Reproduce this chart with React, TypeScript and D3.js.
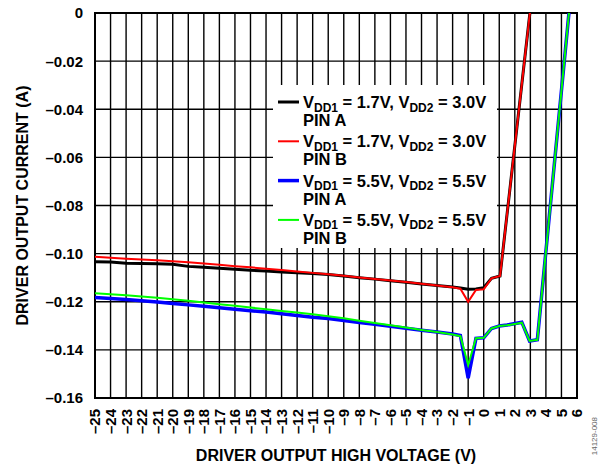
import React, { useEffect, useRef } from "react";
import * as d3 from "d3";

// tick values
const xTickValues = [-25, -24, -23, -22, -21, -20, -19, -18, -17, -16, -15, -14, -13, -12, -11, -10, -9, -8, -7, -6, -5, -4, -3, -2, -1, 0, 1, 2, 3, 4, 5, 6];
const yTickValues = [0, -0.02, -0.04, -0.06, -0.08, -0.1, -0.12, -0.14, -0.16];

// x samples (V)
const lowSupplyX = [-25, -24, -23, -22, -21, -20, -19, -18, -17, -16, -15, -14, -13, -12, -11, -10, -9, -8, -7, -6, -5, -4, -3, -2, -1.5, -1, -0.5, 0, 0.5, 1.05, 3.0];
const highSupplyX = [-25, -24, -23, -22, -21, -20, -19, -18, -17, -16, -15, -14, -13, -12, -11, -10, -9, -8, -7, -6, -5, -4, -3, -2, -1.5, -1, -0.5, 0, 0.5, 1.0, 1.5, 2.45, 2.95, 3.45, 5.5];

// currents (A)
const lowPinA = [-0.1034, -0.1035, -0.104, -0.1041, -0.1042, -0.1044, -0.1053, -0.1057, -0.1061, -0.1065, -0.1069, -0.1072, -0.1076, -0.1079, -0.1083, -0.1087, -0.1093, -0.11, -0.1106, -0.1113, -0.1119, -0.1126, -0.1132, -0.1139, -0.1143, -0.1148, -0.1147, -0.1142, -0.1103, -0.1093, 0.0017];
const lowPinB = [-0.1013, -0.1017, -0.1021, -0.1024, -0.1028, -0.1032, -0.1036, -0.1041, -0.1046, -0.1052, -0.1057, -0.1063, -0.1068, -0.1074, -0.108, -0.1086, -0.1092, -0.1099, -0.1105, -0.1112, -0.1118, -0.1125, -0.1132, -0.114, -0.1146, -0.12, -0.1151, -0.1148, -0.1103, -0.1093, 0.0017];
const highPinA = [-0.1182, -0.1186, -0.1191, -0.1196, -0.1201, -0.1207, -0.1213, -0.1219, -0.1225, -0.1231, -0.1237, -0.1243, -0.125, -0.1257, -0.1264, -0.127, -0.1278, -0.1286, -0.1294, -0.1302, -0.131, -0.1318, -0.1326, -0.1334, -0.134, -0.1518, -0.1352, -0.135, -0.1311, -0.1301, -0.1297, -0.1285, -0.1363, -0.1358, 0.0012];
const highPinB = [-0.1165, -0.1169, -0.1173, -0.1178, -0.1183, -0.119, -0.1196, -0.1203, -0.121, -0.1217, -0.1224, -0.1231, -0.1238, -0.1245, -0.1252, -0.126, -0.1269, -0.1279, -0.1288, -0.1298, -0.1307, -0.1317, -0.1326, -0.1336, -0.1343, -0.1463, -0.1352, -0.135, -0.1311, -0.1301, -0.1298, -0.1287, -0.1363, -0.1358, 0.0012];

const legendVdd1 = ["1.7V", "1.7V", "5.5V", "5.5V"];
const legendVdd2 = ["3.0V", "3.0V", "5.5V", "5.5V"];
const legendPins = ["PIN A", "PIN B", "PIN A", "PIN B"];

export default function App() {
  const svgRef = useRef<SVGSVGElement | null>(null);

  useEffect(() => {
    const width = 600;
    const height = 468;
    const plot = { left: 95, right: 577, top: 13, bottom: 398 };
    const font = "'Liberation Sans', Arial, sans-serif";

    const svg = d3.select(svgRef.current);
    svg.selectAll("*").remove();
    svg.attr("width", width).attr("height", height);

    svg.append("rect").attr("width", width).attr("height", height).attr("fill", "#fff");

    const xScale = d3.scaleLinear().domain([-25, 6]).range([plot.left, plot.right]);
    const yScale = d3.scaleLinear().domain([-0.16, 0]).range([plot.bottom, plot.top]);

    // grid
    const grid = svg.append("g").attr("stroke", "#000").attr("stroke-width", 1.4);
    grid.selectAll("line.v")
      .data(xTickValues)
      .join("line")
      .attr("class", "v")
      .attr("x1", (d) => xScale(d))
      .attr("x2", (d) => xScale(d))
      .attr("y1", plot.top)
      .attr("y2", plot.bottom);
    grid.selectAll("line.h")
      .data(yTickValues)
      .join("line")
      .attr("class", "h")
      .attr("x1", plot.left)
      .attr("x2", plot.right)
      .attr("y1", (d) => yScale(d))
      .attr("y2", (d) => yScale(d));

    // legend background hides the grid
    svg.append("rect")
      .attr("x", 273)
      .attr("y", 85)
      .attr("width", 224)
      .attr("height", 163)
      .attr("fill", "#fff");

    // frame
    svg.append("rect")
      .attr("x", plot.left)
      .attr("y", plot.top)
      .attr("width", plot.right - plot.left)
      .attr("height", plot.bottom - plot.top)
      .attr("fill", "none")
      .attr("stroke", "#000")
      .attr("stroke-width", 2);

    svg.append("clipPath")
      .attr("id", "plot-clip")
      .append("rect")
      .attr("x", plot.left)
      .attr("y", plot.top)
      .attr("width", plot.right - plot.left)
      .attr("height", plot.bottom - plot.top);

    const series = [
      { xs: lowSupplyX, ys: lowPinA, color: "#000000", w: 3 },
      { xs: lowSupplyX, ys: lowPinB, color: "#ff0000", w: 2 },
      { xs: highSupplyX, ys: highPinA, color: "#0000ff", w: 3.5 },
      { xs: highSupplyX, ys: highPinB, color: "#00ff00", w: 2 },
    ];

    const line = d3
      .line<[number, number]>()
      .x((d) => xScale(d[0]))
      .y((d) => yScale(d[1]));

    const lines = svg.append("g").attr("clip-path", "url(#plot-clip)");
    series.forEach((s) => {
      const pts = s.xs.map((x, i) => [x, s.ys[i]] as [number, number]);
      lines.append("path")
        .attr("d", line(pts))
        .attr("fill", "none")
        .attr("stroke", s.color)
        .attr("stroke-width", s.w)
        .attr("stroke-linejoin", "miter");
    });

    // y tick labels
    svg.append("g")
      .selectAll("text")
      .data(yTickValues)
      .join("text")
      .attr("x", 83)
      .attr("y", (d) => yScale(d))
      .attr("dy", "0.36em")
      .attr("text-anchor", "end")
      .attr("font-family", font)
      .attr("font-weight", "bold")
      .attr("font-size", 15)
      .text((d) => (d === 0 ? "0" : "\u2013" + Math.abs(d).toFixed(2)));

    // x tick labels, rotated
    svg.append("g")
      .selectAll("text")
      .data(xTickValues)
      .join("text")
      .attr("transform", (d) => `translate(${xScale(d)},${plot.bottom + 11}) rotate(-90)`)
      .attr("dy", "0.36em")
      .attr("text-anchor", "end")
      .attr("font-family", font)
      .attr("font-weight", "bold")
      .attr("font-size", 15)
      .text((d) => (d < 0 ? "\u2013" + Math.abs(d) : String(d)));

    // axis titles
    svg.append("text")
      .attr("x", (plot.left + plot.right) / 2)
      .attr("y", 461)
      .attr("text-anchor", "middle")
      .attr("font-family", font)
      .attr("font-weight", "bold")
      .attr("font-size", 16)
      .text("DRIVER OUTPUT HIGH VOLTAGE (V)");

    svg.append("text")
      .attr("transform", `translate(28,${(plot.top + plot.bottom) / 2}) rotate(-90)`)
      .attr("text-anchor", "middle")
      .attr("font-family", font)
      .attr("font-weight", "bold")
      .attr("font-size", 16)
      .text("DRIVER OUTPUT CURRENT (A)");

    // figure id
    svg.append("text")
      .attr("transform", "translate(597,417) rotate(-90)")
      .attr("text-anchor", "end")
      .attr("font-family", font)
      .attr("font-size", 8)
      .attr("fill", "#666")
      .text("14129-008");

    // legend
    const legend = svg.append("g").attr("font-family", font).attr("font-weight", "bold");
    series.forEach((s, i) => {
      const y0 = 108 + i * 39.3;
      legend.append("line")
        .attr("x1", 278)
        .attr("x2", 299)
        .attr("y1", y0 - 6)
        .attr("y2", y0 - 6)
        .attr("stroke", s.color)
        .attr("stroke-width", s.w);
      const t = legend.append("text").attr("x", 303).attr("y", y0).attr("font-size", 16.5);
      t.append("tspan").text("V");
      t.append("tspan").attr("font-size", 12).attr("dy", 3.5).text("DD1");
      t.append("tspan").attr("dy", -3.5).text(` = ${legendVdd1[i]}, V`);
      t.append("tspan").attr("font-size", 12).attr("dy", 3.5).text("DD2");
      t.append("tspan").attr("dy", -3.5).text(` = ${legendVdd2[i]}`);
      legend.append("text")
        .attr("x", 303)
        .attr("y", y0 + 18)
        .attr("font-size", 16.5)
        .text(legendPins[i]);
    });
  }, []);

  return <svg ref={svgRef} style={{ position: "absolute", left: 0, top: 0 }} />;
}
